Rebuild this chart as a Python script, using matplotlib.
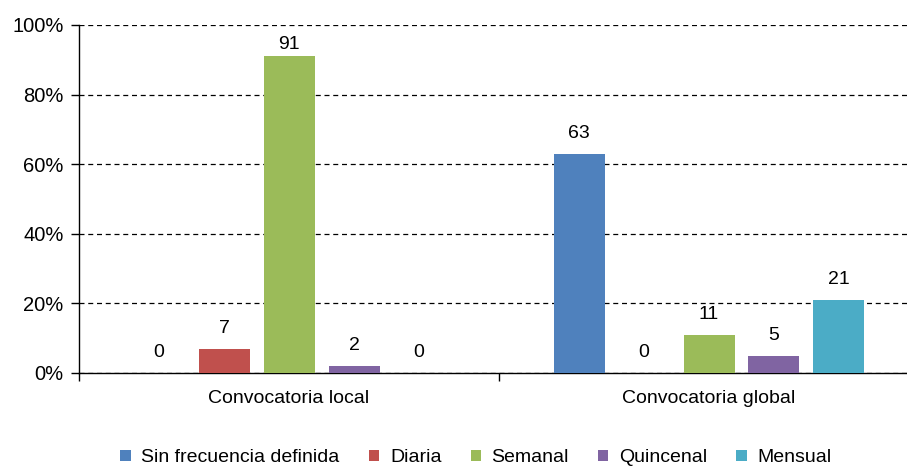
import numpy as np
import matplotlib
matplotlib.use('Agg')
import matplotlib.pyplot as plt
from matplotlib.ticker import FuncFormatter

plt.rcParams['font.family'] = ['Liberation Sans', 'DejaVu Sans']

categories = ['Convocatoria local', 'Convocatoria global']
series_names = ['Sin frecuencia definida', 'Diaria', 'Semanal', 'Quincenal', 'Mensual']
sin_frecuencia = [0, 63]
diaria = [7, 0]
semanal = [91, 11]
quincenal = [2, 5]
mensual = [0, 21]
colors = ['#4F81BD', '#C0504D', '#9BBB59', '#8064A2', '#4BACC6']

values = [sin_frecuencia, diaria, semanal, quincenal, mensual]
fs = 14

fig = plt.figure(figsize=(9.07, 4.66), dpi=100)
ax = fig.add_axes([79/907, (466-373)/466, 1 - 79/907, (373-25)/466])

x = np.arange(len(categories))
step = 65/420
width = 51/420
# labels sit ~16px above the bar, but are kept inside the plot like excel does
gap = 16 / 3.48
label_max = 93.1
for i, (name, vals, c) in enumerate(zip(series_names, values, colors)):
    pos = x + (i - 2) * step
    ax.bar(pos, vals, width, color=c, label=name, zorder=3)
    for p, v in zip(pos, vals):
        ax.text(p, min(v + gap, label_max), str(v), ha='center', va='baseline',
                fontsize=fs, color='#000000')

ax.set_yticks(range(0, 101, 20))
ax.yaxis.set_major_formatter(FuncFormatter(lambda v, p: '%d%%' % v))
ax.grid(axis='y', linestyle=(0, (4, 3)), color='black', linewidth=0.9, zorder=0)
ax.set_xticks([-0.5, 0.5, 1.5])
ax.set_xticklabels([])
ax.set_xticks(x, minor=True)
ax.set_xticklabels(categories, minor=True)
ax.set_xlim(-0.5, -0.5 + (907-79)/420)
ax.set_ylim(0, 100)
ax.tick_params(axis='x', which='minor', length=0, pad=12, labelsize=fs)
ax.tick_params(axis='x', which='major', length=6, direction='out', width=1)
ax.tick_params(axis='y', length=6, direction='out', width=1, labelsize=14.5, pad=5)
for s in ['top', 'right']:
    ax.spines[s].set_visible(False)
ax.spines['left'].set_linewidth(1)
ax.spines['bottom'].set_linewidth(1)

leg = fig.legend(loc='center', bbox_to_anchor=(476/907, 1 - 458/466), ncol=5,
                 frameon=False, fontsize=fs, handlelength=0.52, handleheight=0.52,
                 handletextpad=0.56, columnspacing=1.5)

fig.savefig('out.png', dpi=100)
